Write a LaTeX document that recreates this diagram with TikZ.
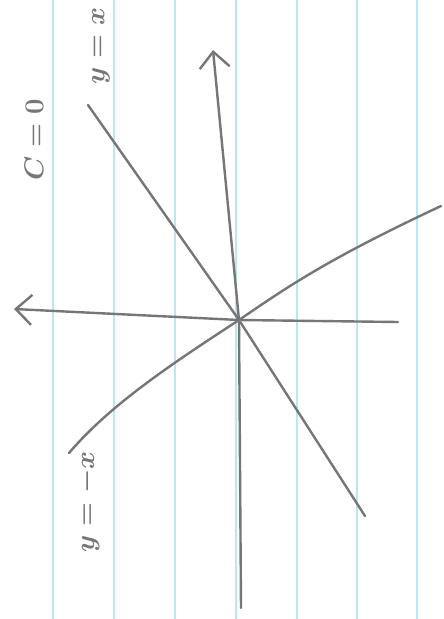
\documentclass[tikz,border=0pt]{standalone}
\usetikzlibrary{arrows.meta}

\definecolor{pencil}{RGB}{118,118,118}
\definecolor{ruled}{RGB}{185,232,242}

\tikzset{
    pencilline/.style = {pencil, line width=2.4pt, line cap=round, line join=round},
    axisarrow/.style = {pencilline, -{Straight Barb[length=16pt,width=30pt,line width=2.4pt]}},
    handlabel/.style = {pencil, rotate=90, scale=1.1, font=\Huge\boldmath}
}

\begin{document}
\begin{tikzpicture}[x=1pt, y=-1pt]
    % Paper and ruled lines
    \useasboundingbox (0,0) rectangle (444,619);
    \fill[white] (0,0) rectangle (444,619);
    \foreach \x in {53,114,175,236,297,357,417} \draw[ruled, line width=1.4pt] (\x,0) -- (\x,619);

    % Points of the sketch
    \coordinate (O) at (239,320);
    \coordinate (vbot) at (241,608);
    \coordinate (vtop) at (213,50);
    \coordinate (hright) at (398,322);
    \coordinate (hleft) at (14,309);
    \coordinate (ptop) at (88,105);
    \coordinate (pbot) at (365,516);
    \coordinate (nright) at (441,206);
    \coordinate (nleft) at (69,453);

    % Axes
    \draw[axisarrow] (vbot) -- (O) -- (vtop);
    \draw[axisarrow] (hright) -- (O) -- (hleft);

    % Level lines
    \draw[pencilline] (ptop) -- (O) -- (pbot);
    \draw[pencilline] (nright) .. controls (330,258) and (290,285) .. (O)
        .. controls (170,365) and (110,405) .. (nleft);

    % Labels
    \node[handlabel] (lblpos) at (101,46) {$y=x$};
    \node[handlabel] (lblc) at (34,140) {$C=0$};
    \node[handlabel] (lblneg) at (88,502) {$y=-x$};
\end{tikzpicture}
\end{document}
